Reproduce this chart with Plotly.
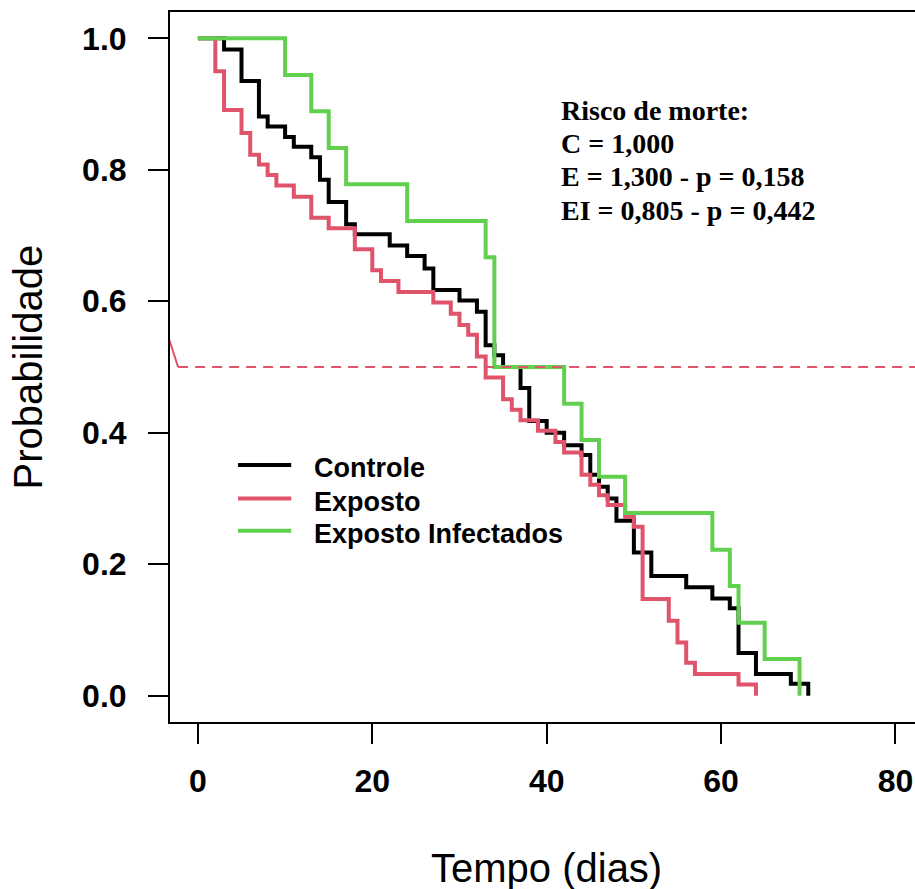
import plotly.graph_objects as go

# Kaplan-Meier survival estimates per group (time in days, survival probability)
controle_t = [0, 3, 5, 7, 8, 10, 11, 13, 14, 15, 17, 18, 22, 24, 26, 27, 30, 32, 33,
              34, 35, 37, 38, 40, 42, 44, 45, 46, 47, 48, 50, 52, 56, 59, 61, 62, 64, 68, 70]
controle_s = [1.0, 0.983, 0.935, 0.881, 0.866, 0.850, 0.835, 0.819, 0.785, 0.751, 0.717,
              0.702, 0.685, 0.669, 0.650, 0.617, 0.601, 0.584, 0.533, 0.518, 0.500, 0.468,
              0.418, 0.400, 0.381, 0.366, 0.336, 0.318, 0.300, 0.266, 0.218, 0.182, 0.165,
              0.148, 0.133, 0.065, 0.033, 0.018, 0.0]

exposto_t = [0, 2, 3, 5, 6, 7, 8, 9, 11, 13, 15, 18, 20, 21, 23, 27, 29, 30, 31, 32, 33,
             35, 36, 37, 39, 41, 42, 44, 45, 46, 47, 49, 50, 51, 54, 55, 56, 57, 62, 64]
exposto_s = [1.0, 0.950, 0.891, 0.856, 0.823, 0.808, 0.792, 0.776, 0.759, 0.727, 0.711,
             0.679, 0.647, 0.631, 0.614, 0.598, 0.581, 0.564, 0.549, 0.516, 0.484, 0.451,
             0.435, 0.419, 0.403, 0.386, 0.370, 0.336, 0.321, 0.305, 0.290, 0.272, 0.257,
             0.147, 0.114, 0.081, 0.050, 0.033, 0.017, 0.0]

infect_t = [0, 10, 13, 15, 17, 24, 33, 34, 42, 44, 46, 49, 59, 61, 62, 65, 69]
infect_s = [1.0, 0.944, 0.889, 0.833, 0.778, 0.722, 0.667, 0.500, 0.444, 0.389, 0.333,
            0.278, 0.222, 0.167, 0.111, 0.056, 0.0]

group_names = ["Controle", "Exposto", "Exposto Infectados"]
group_colors = ["#000000", "#DF536B", "#61D04F"]

x_ticks = [0, 20, 40, 60, 80]
y_ticks = [0.0, 0.2, 0.4, 0.6, 0.8, 1.0]

median_level = 0.5
risk_lines = ["Risco de morte:", "C = 1,000", "E = 1,300 - p = 0,158", "EI = 0,805 - p = 0,442"]

SANS = "Liberation Sans, Arial, sans-serif"
SERIF = "Liberation Serif, Times New Roman, serif"

fig = go.Figure()

series = [(controle_t, controle_s), (exposto_t, exposto_s), (infect_t, infect_s)]
for (t, s), name, color in zip(series, group_names, group_colors):
    fig.add_trace(go.Scatter(x=t, y=s, mode="lines", line_shape="hv", name=name,
                             line=dict(color=color, width=4), hoverinfo="skip",
                             showlegend=False))

# median reference line
fig.add_trace(go.Scatter(x=[-3.3, -2.27], y=[0.542, median_level], mode="lines",
                         line=dict(color=group_colors[1], width=2), hoverinfo="skip",
                         showlegend=False))
fig.add_trace(go.Scatter(x=[-2.27, 83], y=[median_level, median_level], mode="lines",
                         line=dict(color=group_colors[1], width=2, dash="10px,7px"),
                         hoverinfo="skip", showlegend=False))

# legend drawn as line samples with labels
legend_y = [0.351, 0.300, 0.251]
for name, color, ly in zip(group_names, group_colors, legend_y):
    fig.add_shape(type="line", xref="x", yref="y", x0=4.6, x1=10.7, y0=ly, y1=ly,
                  line=dict(color=color, width=4))
    fig.add_annotation(x=13.1, y=ly - 0.005, xref="x", yref="y", text=name,
                       showarrow=False, xanchor="left", yanchor="middle",
                       font=dict(family=SANS, size=27, color="#000000", weight="bold"))

# hazard ratio text block
risk_y = [0.890, 0.840, 0.790, 0.738]
for txt, ry in zip(risk_lines, risk_y):
    fig.add_annotation(x=41.4, y=ry, xref="x", yref="y", text=txt, showarrow=False,
                       xanchor="left", yanchor="middle",
                       font=dict(family=SERIF, size=28, color="#000000", weight="bold"))

# axis titles
fig.add_annotation(x=40, y=-0.205, xref="x", yref="paper", text="Tempo (dias)",
                   showarrow=False, xanchor="center", yanchor="middle",
                   font=dict(family=SANS, size=40, color="#000000"))
fig.add_annotation(x=-0.19, y=0.5, xref="paper", yref="paper", text="Probabilidade",
                   showarrow=False, textangle=-90, xanchor="center", yanchor="middle",
                   font=dict(family=SANS, size=40, color="#000000"))

fig.update_layout(
    width=915, height=889,
    margin=dict(l=170, r=0, t=12, b=167),
    paper_bgcolor="white", plot_bgcolor="white",
    showlegend=False,
    xaxis=dict(range=[-3.2, 82.24], tickvals=x_ticks, ticks="outside", ticklen=20,
               tickwidth=2, tickcolor="#000000", showline=True, linewidth=2,
               linecolor="#000000", mirror=True, showgrid=False, zeroline=False,
               tickfont=dict(family=SANS, size=32, color="#000000", weight="bold"),
               ticklabelstandoff=10),
    yaxis=dict(range=[-0.04, 1.04], tickvals=y_ticks, tickformat=".1f", ticks="outside",
               ticklen=20, tickwidth=2, tickcolor="#000000", showline=True, linewidth=2,
               linecolor="#000000", mirror=False, showgrid=False, zeroline=False,
               tickfont=dict(family=SANS, size=32, color="#000000", weight="bold"),
               ticklabelstandoff=15),
)

fig.write_html("out.html")
